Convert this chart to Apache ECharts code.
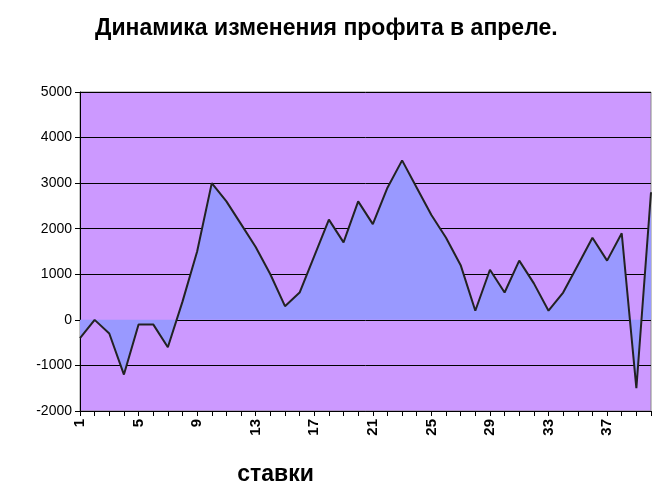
<!DOCTYPE html>
<html><head><meta charset="utf-8">
<script src="https://cdn.jsdelivr.net/npm/echarts@6/dist/echarts.min.js"></script>
<style>html,body{margin:0;background:#fff}#c{width:659px;height:491px}</style>
</head><body><div id="c"></div>
<script>
const categories = Array.from({length:40},(_,i)=>String(i+1));
const values = [-400,0,-300,-1200,-100,-100,-600,400,1500,3000,2600,2100,1600,1000,300,600,1400,2200,1700,2600,2100,2900,3500,2900,2300,1800,1200,200,1100,600,1300,800,200,600,1200,1800,1300,1900,-1500,2800];
const yTicks = {min:-2000,max:5000,interval:1000};
const chart = echarts.init(document.getElementById('c'));
chart.setOption({
  title:{text:'Динамика изменения профита в апреле.',left:90,top:12,textStyle:{fontFamily:'Liberation Sans',fontWeight:'bold',fontSize:23,color:'#000'}},
  grid:{left:80,right:8,top:92,bottom:80,backgroundColor:'#cc99ff',show:true,borderColor:'#888'},
  xAxis:{type:'category',data:categories,boundaryGap:false,name:'ставки',nameLocation:'middle',nameGap:52,
    nameTextStyle:{fontFamily:'Liberation Sans',fontWeight:'bold',fontSize:23,color:'#000',padding:[0,180,0,0]},
    axisLine:{onZero:false,lineStyle:{color:'#000'}},axisTick:{show:true,interval:0,lineStyle:{color:'#000'}},
    axisLabel:{interval:3,rotate:90,fontFamily:'Liberation Sans',fontWeight:'bold',fontSize:15,color:'#000'}},
  yAxis:{type:'value',...yTicks,axisLine:{show:true,lineStyle:{color:'#000'}},axisTick:{show:true},
    splitLine:{lineStyle:{color:'#000'}},
    axisLabel:{formatter:v=>String(v),fontFamily:'Liberation Sans',fontSize:14,color:'#000'}},
  series:[{type:'line',data:values,symbol:'none',
    lineStyle:{color:'#222',width:2},areaStyle:{color:'#9999ff',opacity:1,origin:0}}]
});
</script></body></html>
